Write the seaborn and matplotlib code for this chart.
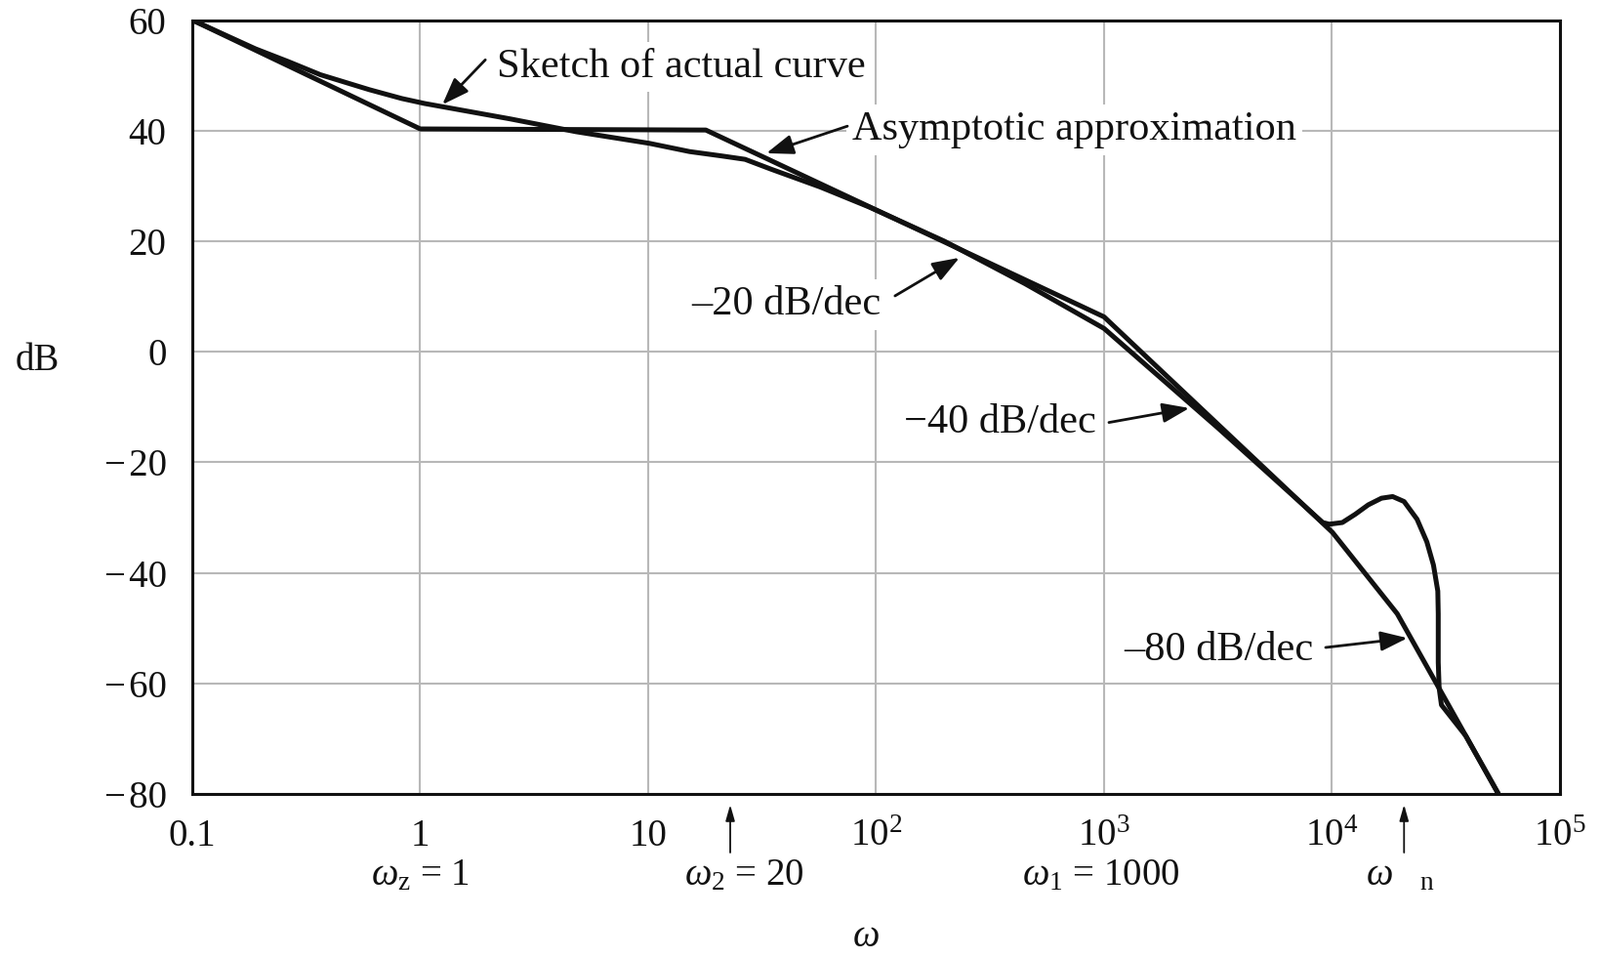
import matplotlib
matplotlib.use('Agg')
import matplotlib.pyplot as plt
import matplotlib.transforms as mtrans
import seaborn as sns
import pandas as pd

# ---------------- data ----------------
asym_w = [0.1, 1.0, 17.9, 1000, 10050, 19320, 53700]
asym_db = [60, 40.3, 40.1, 6.3, -32.7, -47.4, -80]

actual_w = [0.1, 0.189, 0.263, 0.365, 0.598, 0.830, 1.045, 2.49, 4.82, 7.89, 10.1,
            15.2, 21.1, 26.6, 34.7, 56.8, 92.9, 199, 450, 1000, 3160, 6440, 9100,
            9730, 11100, 12650, 14420, 16480, 18450, 20700, 23600, 26060, 27860,
            29110, 29240, 29240, 29510, 30200, 38640, 53700]
actual_db = [60, 54.8, 52.5, 50.1, 47.4, 45.8, 44.9, 42.1, 39.8, 38.4, 37.7,
             36.2, 35.4, 34.8, 33.0, 29.8, 26.2, 20.0, 12.3, 4.2, -13.8, -25.3, -30.9,
             -31.2, -30.9, -29.4, -27.7, -26.5, -26.2, -27.1, -30.3, -34.4, -38.6,
             -43.3, -47.4, -56.2, -60.9, -63.9, -69.5, -80]

y_ticks = [60, 40, 20, 0, -20, -40, -60, -80]
y_tick_labels = ['60', '40', '20', '0', '\u2212\u200a20', '\u2212\u200a40',
                 '\u2212\u200a60', '\u2212\u200a80']
x_ticks = [0.1, 1, 10, 100, 1000, 10000, 100000]
x_tick_labels = ['0.1', '1', '10', r'$10^2$', r'$10^3$', r'$10^4$', r'$10^5$']

corner_labels = [r'$\omega_{\mathrm{z}}$ = 1', r'$\omega_2$ = 20',
                 r'$\omega_1$ = 1000', r'$\omega\quad_{\mathrm{n}}$']
corner_label_w = [1.0, 26.3, 970, 19900]
marker_arrow_w = [22.9, 20700]

notes = ['Sketch of actual curve', 'Asymptotic approximation',
         '\u201320 dB/dec', '\u221240 dB/dec', '\u201380 dB/dec']
note_pos = [(2.17, 49.75), (78.5, 38.3), (15.4, 6.7), (132.4, -14.6), (1219, -55.8)]
note_tail = [(1.93, 52.8), (74.8, 40.8), (121, 10.1), (1050, -12.8), (9376, -53.5)]
note_tip = [(1.25, 44.7), (33.0, 35.9), (232, 17.0), (2366, -10.2), (21430, -51.8)]

# ---------------- style ----------------
sns.set_theme(style='white')
plt.rcParams['font.family'] = ['Liberation Serif', 'DejaVu Serif']
plt.rcParams['mathtext.fontset'] = 'custom'
plt.rcParams['mathtext.rm'] = 'Liberation Serif'
plt.rcParams['mathtext.it'] = 'Liberation Serif:italic'
plt.rcParams['mathtext.bf'] = 'Liberation Serif:bold'

INK = '#111111'
fig = plt.figure(figsize=(16.4, 9.82), dpi=100)
ax = fig.add_axes([0.12012, 0.17210, 0.85427, 0.80702])
ax.set_xscale('log')

df_asym = pd.DataFrame({'w': asym_w, 'db': asym_db})
df_act = pd.DataFrame({'w': actual_w, 'db': actual_db})
sns.lineplot(data=df_asym, x='w', y='db', sort=False, estimator=None,
             color=INK, lw=3.6, ax=ax, zorder=4)
sns.lineplot(data=df_act, x='w', y='db', sort=False, estimator=None,
             color=INK, lw=3.6, ax=ax, zorder=4,
             solid_joinstyle='round', solid_capstyle='round')

ax.set_xlim(0.1, 1e5)
ax.set_ylim(-80, 60)
ax.set_yticks(y_ticks)
ax.set_yticklabels(y_tick_labels)
ax.set_xticks(x_ticks)
ax.set_xticklabels(x_tick_labels)
ax.xaxis.set_minor_locator(matplotlib.ticker.NullLocator())
ax.tick_params(axis='both', length=0, labelsize=28, colors=INK)
ax.tick_params(axis='x', pad=38)
ax.tick_params(axis='y', pad=19)
for lab in ax.get_xticklabels():
    lab.set_verticalalignment('baseline')

ax.set_axisbelow(True)
ax.grid(True, which='major', color='#b8b8b8', lw=1.5)
for s in ax.spines.values():
    s.set_visible(True)
    s.set_color(INK)
    s.set_linewidth(2.2)

ax.set_xlabel(r'$\omega$', fontsize=28, color=INK)
ax.xaxis.set_label_coords(0.4925, -0.197)
ax.xaxis.label.set_verticalalignment('baseline')
ax.set_ylabel('dB', fontsize=28, rotation=0, color=INK)
ax.yaxis.set_label_coords(-0.113, 0.5476)
ax.yaxis.label.set_verticalalignment('baseline')
ax.yaxis.label.set_horizontalalignment('center')

blend = mtrans.blended_transform_factory(ax.transData, ax.transAxes)
for lab, w in zip(corner_labels, corner_label_w):
    ax.text(w, -0.1174, lab, transform=blend, ha='center', va='baseline',
            fontsize=28, color=INK, clip_on=False)
for w in marker_arrow_w:
    ax.annotate('', xy=(w, -0.0139), xytext=(w, -0.0757), xycoords=blend,
                textcoords=blend,
                arrowprops=dict(arrowstyle='-|>,head_length=0.7,head_width=0.2',
                                mutation_scale=14, lw=1.3, color=INK,
                                shrinkA=0, shrinkB=0), annotation_clip=False)

for txt, pos, tail, tip in zip(notes, note_pos, note_tail, note_tip):
    ax.text(pos[0], pos[1], txt, ha='left', va='baseline', fontsize=30.5, color=INK,
            zorder=3, bbox=dict(boxstyle='square,pad=0.15', fc='white', ec='none'))
    ax.annotate('', xy=tip, xytext=tail,
                arrowprops=dict(arrowstyle='-|>,head_length=0.6,head_width=0.22',
                                mutation_scale=28, lw=2.0, color=INK,
                                shrinkA=0, shrinkB=0), zorder=5)

fig.savefig('out.png', dpi=100, facecolor='white')
